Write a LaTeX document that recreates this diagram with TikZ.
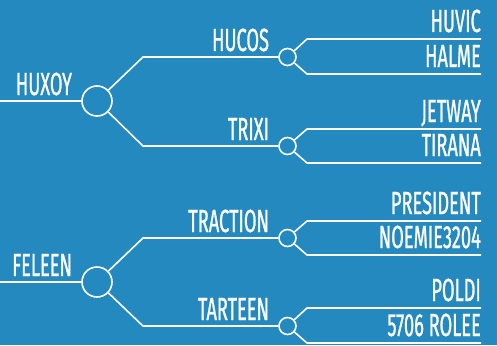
\documentclass[tikz,border=0pt]{standalone}
\usepackage{fontspec}
\setmainfont[FakeStretch=0.57,FakeBold=0.8]{Fira Sans}
\definecolor{bg}{RGB}{35,137,190}
\begin{document}
\begin{tikzpicture}[x=1pt,y=-1pt,
  wire/.style={draw=white,line width=1.6pt},
  bigc/.style={circle,draw=white,line width=1.6pt,minimum size=30pt,inner sep=0pt},
  smallc/.style={circle,draw=white,line width=1.6pt,minimum size=17pt,inner sep=0pt},
  lbl/.style={text=white,font=\fontsize{32}{32}\selectfont,inner sep=0pt,anchor=base east}]
\fill[bg] (0,0) rectangle (497,345);
\useasboundingbox (0,0) rectangle (497,345);
% ---------- group 1
\coordinate (s1) at (0,101);
\node[bigc] (c1) at (97,101) {};
\draw[wire] (s1) -- (c1);
\node[lbl] (l1) at ([xshift=-9pt,yshift=6pt]c1.west) {HUXOY};
\coordinate (a1) at (143,57);
\coordinate (b1) at (143,146);
\node[smallc] (c2) at (287.5,57) {};
\node[smallc] (c3) at (287.5,146) {};
\draw[wire] (c1) -- (a1) -- (c2);
\draw[wire] (c1) -- (b1) -- (c3);
\node[lbl] (l2) at ([xshift=-9pt,yshift=6pt]c2.west) {HUCOS};
\node[lbl] (l3) at ([xshift=-9pt,yshift=6pt]c3.west) {TRIXI};
\coordinate (a2) at (307,39);  \coordinate (e2) at (481,39);
\coordinate (b2) at (307,74);  \coordinate (f2) at (481,74);
\coordinate (a3) at (307,129); \coordinate (e3) at (481,129);
\coordinate (b3) at (307,163); \coordinate (f3) at (481,163);
\draw[wire] (c2) -- (a2) -- (e2);
\draw[wire] (c2) -- (b2) -- (f2);
\draw[wire] (c3) -- (a3) -- (e3);
\draw[wire] (c3) -- (b3) -- (f3);
\node[lbl] at ([yshift=7pt]e2) {HUVIC};
\node[lbl] at ([yshift=7pt]f2) {HALME};
\node[lbl] at ([yshift=7pt]e3) {JETWAY};
\node[lbl] at ([yshift=7pt]f3) {TIRANA};
% ---------- group 2
\coordinate (s4) at (0,282);
\node[bigc] (c4) at (97,282) {};
\draw[wire] (s4) -- (c4);
\node[lbl] (l4) at ([xshift=-9pt,yshift=6pt]c4.west) {FELEEN};
\coordinate (a4) at (143,238);
\coordinate (b4) at (143,326);
\node[smallc] (c5) at (287.5,238) {};
\node[smallc] (c6) at (287.5,326) {};
\draw[wire] (c4) -- (a4) -- (c5);
\draw[wire] (c4) -- (b4) -- (c6);
\node[lbl] (l5) at ([xshift=-9pt,yshift=6pt]c5.west) {TRACTION};
\node[lbl] (l6) at ([xshift=-9pt,yshift=6pt]c6.west) {TARTEEN};
\coordinate (a5) at (307,221); \coordinate (e5) at (481,221);
\coordinate (b5) at (307,255); \coordinate (f5) at (481,255);
\coordinate (a6) at (307,308); \coordinate (e6) at (481,308);
\coordinate (b6) at (307,343); \coordinate (f6) at (481,343);
\draw[wire] (c5) -- (a5) -- (e5);
\draw[wire] (c5) -- (b5) -- (f5);
\draw[wire] (c6) -- (a6) -- (e6);
\draw[wire] (c6) -- (b6) -- (f6);
\node[lbl] at ([yshift=7pt]e5) {PRESIDENT};
\node[lbl] at ([yshift=7pt]f5) {NOEMIE3204};
\node[lbl] at ([yshift=7pt]e6) {POLDI};
\node[lbl] at ([yshift=7pt]f6) {5706 ROLEE};
\end{tikzpicture}
\end{document}
